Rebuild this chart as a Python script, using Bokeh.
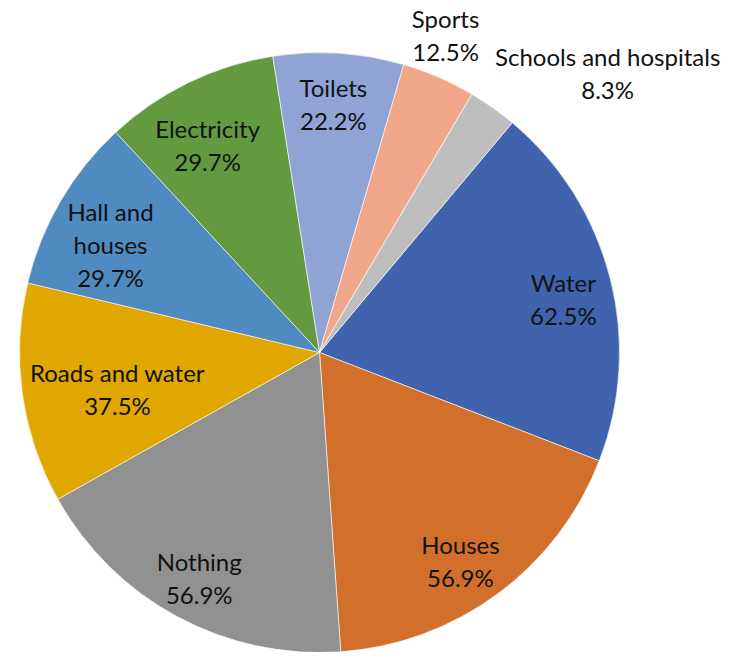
import math
from bokeh.plotting import figure
from bokeh.models import ColumnDataSource, Range1d
from bokeh.core.properties import value
from bokeh.embed import file_html
from bokeh.resources import INLINE

# ---- data ----
categories = ["Water", "Houses", "Nothing", "Roads and water", "Hall and\nhouses",
              "Electricity", "Toilets", "Sports", "Schools and hospitals"]
values = [62.5, 56.9, 56.9, 37.5, 29.7, 29.7, 22.2, 12.5, 8.3]
pct_labels = ["62.5%", "56.9%", "56.9%", "37.5%", "29.7%", "29.7%", "22.2%", "12.5%", "8.3%"]

# ---- style / layout ----
colors = ["#3F63AD", "#D26F2B", "#919191", "#DFA700", "#4F8AC0",
          "#639A3F", "#8FA4D5", "#F1A78A", "#BEBEBE"]
first_slice_deg = 40.0          # clockwise from 12 o'clock
label_rfrac = [0.832, 0.84, 0.853, 0.684, 0.784, 0.785, 0.831, 1.14, 1.338]
label_dang = [2.1, 2.45, -0.3, -2.2, -3.0, -2.5, -0.5, -1.8, 10.6]

W, H = 723, 652
cx, cy, R = 319.0, 300.0, 300.0   # plot pixel coordinates (y up)

total = sum(values)
starts, ends, lx, ly, texts = [], [], [], [], []
acc = first_slice_deg
for i, v in enumerate(values):
    span = v / total * 360.0
    a0, a1 = acc, acc + span
    starts.append(math.radians(90.0 - a1))
    ends.append(math.radians(90.0 - a0))
    mid = (a0 + a1) / 2.0 + label_dang[i]
    r = label_rfrac[i] * R
    lx.append(cx + r * math.sin(math.radians(mid)))
    ly.append(cy + r * math.cos(math.radians(mid)))
    texts.append(categories[i] + "\n" + pct_labels[i])
    acc = a1

src = ColumnDataSource(dict(start=starts, end=ends, color=colors,
                            x=lx, y=ly, text=texts))

p = figure(width=W, height=H, output_backend="svg", toolbar_location=None,
           x_range=Range1d(0, W), y_range=Range1d(0, H), min_border=0)
p.axis.visible = False
p.grid.visible = False
p.outline_line_color = None
p.background_fill_color = "white"

p.wedge(x=cx, y=cy, radius=R, start_angle="start", end_angle="end",
        fill_color="color", line_color="white", line_width=0.6, source=src)

p.text(x="x", y="y", text="text", source=src, text_align="center",
       text_baseline="middle", text_font=value("Lato"), text_font_size="24px",
       text_color="#111111", text_line_height=1.14)

open("out.html", "w").write(file_html(p, INLINE))
